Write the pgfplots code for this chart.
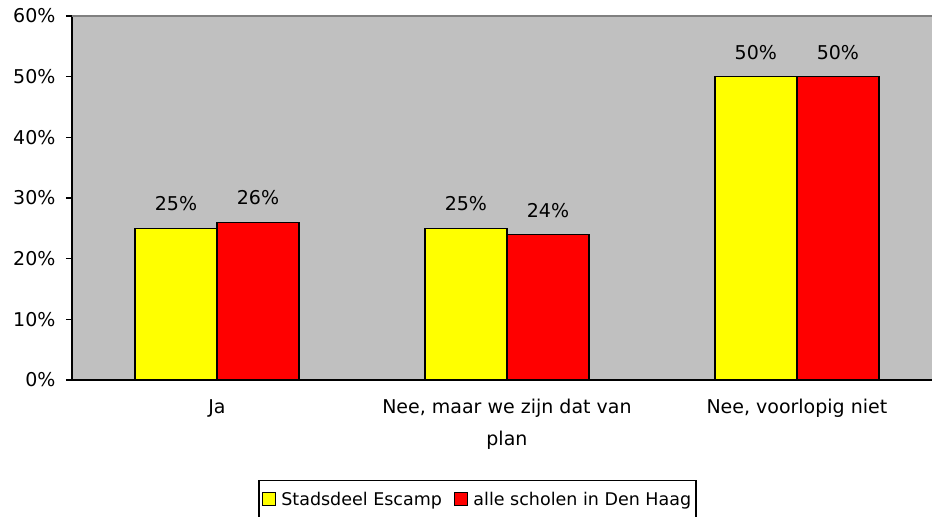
\documentclass[border=0pt]{standalone}
\usepackage{fontspec}
\setmainfont{DejaVu Sans}
\usepackage{pgfplots}
\pgfplotsset{compat=1.18}
\definecolor{plotgray}{HTML}{C0C0C0}
\definecolor{edgegray}{HTML}{808080}
\definecolor{baryellow}{HTML}{FFFF00}
\definecolor{barred}{HTML}{FF0000}
\newcommand{\chartfont}{\fontsize{19bp}{32bp}\selectfont}

\begin{document}
\begin{tikzpicture}
\path[use as bounding box] (-72bp,-137bp) rectangle (860bp,380bp);
\begin{axis}[
    scale only axis,
    width=860bp, height=364bp,
    xmin=-0.5, xmax=2.466,
    ymin=0, ymax=60,
    ytick={0,10,...,60},
    yticklabel={\pgfmathprintnumber{\tick}\%},
    /pgf/number format/assume math mode=true,
    xtick={0,1,2},
    xticklabels={Ja, {Nee, maar we zijn dat van\\plan}, {Nee, voorlopig niet}},
    xtick style={draw=none},
    minor xtick={-0.5,0.5,1.5,2.5},
    minor tick length=6bp,
    major tick length=6bp,
    tick align=outside,
    tick style={black, line width=1.5bp},
    axis x line*=bottom,
    axis y line*=left,
    axis line style={black, line width=1.5bp},
    axis background/.style={fill=plotgray},
    ticklabel style={font=\chartfont},
    xticklabel style={align=center, anchor=north, yshift=-10bp},
    yticklabel style={xshift=-7bp},
    ybar,
    bar width=0.283,
    every axis plot/.append style={draw=black, line width=1.5bp},
    nodes near coords={\pgfmathprintnumber{\pgfplotspointmeta}\%},
    nodes near coords style={font=\chartfont, black, yshift=13bp},
    legend style={
        at={(0.4715,-0.2747)}, anchor=north,
        font=\fontsize{17.5bp}{21bp}\selectfont, draw=black, line width=1.5bp,
        legend columns=2,
        inner xsep=3bp, inner ysep=9bp,
        /tikz/every odd column/.append style={column sep=3bp},
        /tikz/every even column/.append style={column sep=10bp},
    },
    legend image code/.code={
        \draw[#1, line width=1.5bp] (0bp,-6.5bp) rectangle (13bp,6.5bp);
    },
    clip=false,
]
\addplot[fill=baryellow, bar shift=-0.1415] coordinates {(0,25) (1,25) (2,50)};
\addplot[fill=barred, bar shift=0.1415] coordinates {(0,26) (1,24) (2,50)};
\legend{Stadsdeel Escamp, alle scholen in Den Haag}
\draw[edgegray, line width=2bp] (rel axis cs:0,1) -- (rel axis cs:1,1);
\end{axis}
\end{tikzpicture}
\end{document}
